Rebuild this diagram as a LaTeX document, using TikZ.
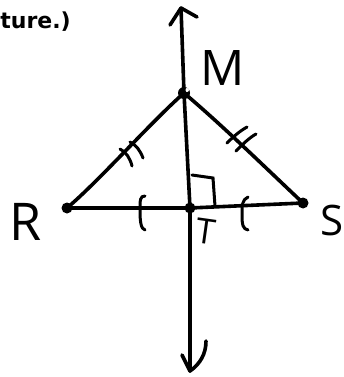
\documentclass[tikz,border=0pt]{standalone}
\usepackage{fontspec}
\setmainfont{DejaVu Sans}
\newfontfamily\handfont{Open Sans}
\begin{document}
\begin{tikzpicture}[x=1pt,y=-1pt,
  pen/.style={line width=3.6pt,line cap=round,line join=round,black},
  dotpt/.style={circle,fill=black,inner sep=0pt,minimum size=11pt},
  lbl/.style={inner sep=0pt},
  tick/.style={line width=3pt,line cap=round}]
\useasboundingbox (0,0) rectangle (344,377);
% clipped caption text
\begin{scope}
\clip (0,0) rectangle (344,377);
\node[anchor=base east,font=\fontsize{22}{22}\selectfont\bfseries,inner sep=0pt] (cap) at (71,29) {ture.)};
\end{scope}
% points
\node[dotpt,minimum size=12pt] (M) at (184,93) {};
\node[dotpt] (R) at (67,208) {};
\node[dotpt] (S) at (303,203) {};
\node[dotpt] (T) at (190,208) {};
\fill[white] (187,90) circle (2pt);
\coordinate (top) at (181,8);
\coordinate (bot) at (190,371);
% vertical line
\draw[pen] (top) -- (M.center) -- (T.center) -- (bot);
% arrowheads
\draw[pen] (170,25) -- (top) -- (197,17);
\draw[pen] (182,355) -- (bot) .. controls (200,364) and (206,354) .. (206,341);
% triangle
\draw[pen] (R.center) .. controls (100,180) and (150,123) .. (M.center);
\draw[pen] (M.center) .. controls (222,125) and (270,172) .. (S.center);
\draw[pen] (R.center) -- (T.center) -- (S.center);
% right angle
\draw[tick] (192,175) -- (213,178) -- (215,206);
% single ticks
\draw[tick] (145,196) .. controls (140,196) and (140,200) .. (140,210) .. controls (140,222) and (141,229) .. (145,230);
\draw[tick] (248,197) .. controls (242,200) and (242,205) .. (242,215) .. controls (242,225) and (243,229) .. (248,230);
% double ticks
\draw[tick] (120,149) .. controls (126,152) and (130,158) .. (132,166);
\draw[tick] (130,142) .. controls (136,145) and (140,150) .. (143,158);
\draw[tick] (227,143) .. controls (234,136) and (240,131) .. (247,127);
\draw[tick] (236,151) .. controls (243,144) and (249,138) .. (256,134);
% labels
\node[lbl,font=\handfont\fontsize{49}{49}\selectfont] (Ml) at (223,68) {M};
\node[lbl,font=\handfont\fontsize{52}{52}\selectfont] (Rl) at (26,222) {R};
\node[lbl,font=\handfont\fontsize{42}{42}\selectfont] (Sl) at (332,220) {S};
\node[lbl,font=\handfont\fontsize{35}{35}\selectfont,rotate=-8] (Tl) at (206,231) {T};
\end{tikzpicture}
\end{document}
